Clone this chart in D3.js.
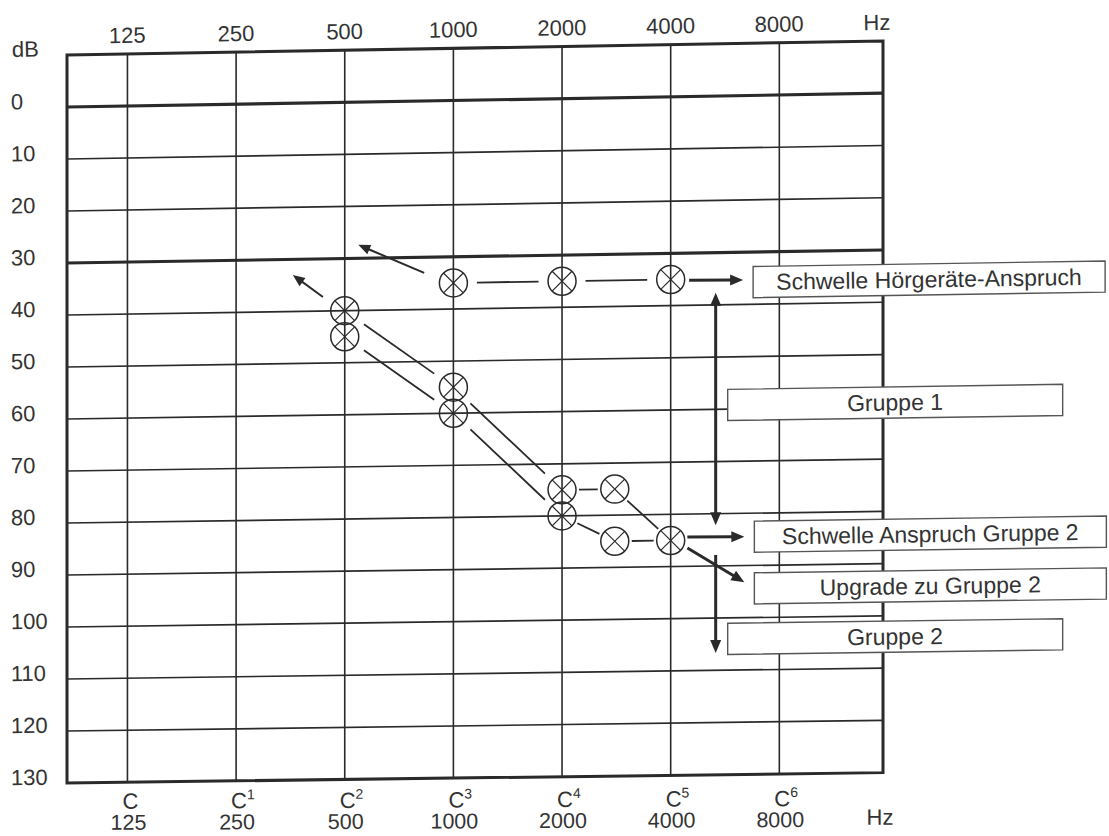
<!DOCTYPE html>
<html><head><meta charset="utf-8">
<script src="https://cdn.jsdelivr.net/npm/d3@7"></script>
<style>html,body{margin:0;padding:0;background:#fff;} svg{display:block;}</style>
</head><body>
<svg id="chart" width="1109" height="836"></svg>
<script>
// ---------- data ----------
const freqTicks = [125, 250, 500, 1000, 2000, 4000, 8000];
const freqTopLabels = ["125", "250", "500", "1000", "2000", "4000", "8000"];
const noteNames = ["C", "C", "C", "C", "C", "C", "C"];
const noteOctaves = ["", "1", "2", "3", "4", "5", "6"];
const dbTicks = [0, 10, 20, 30, 40, 50, 60, 70, 80, 90, 100, 110, 120, 130];
const dbGridLines = [0, 10, 20, 30, 40, 50, 60, 70, 80, 90, 100, 110, 120];
const dbBoldLines = [0, 30];

const thresholdFreq = [1000, 2000, 4000];
const thresholdDb = [35, 35, 35];
const curveUpperFreq = [500, 1000, 2000, 2800, 4000];
const curveUpperDb = [40, 55, 75, 75, 85];
const curveLowerFreq = [500, 1000, 2000, 2800, 4000];
const curveLowerDb = [45, 60, 80, 85, 85];

const arrowFromFreq = [830, 435, 4500, 5330, 5330, 4450, 4450, 5330];
const arrowFromDb = [33, 37.3, 35.2, 60, 60, 84.4, 86.5, 87.9];
const arrowToFreq = [545, 359, 6350, 5330, 5330, 6400, 6400, 5330];
const arrowToDb = [27.4, 33, 35.3, 37.7, 82.2, 84.5, 93.2, 106.7];

const labelTexts = ["Schwelle Hörgeräte-Anspruch", "Gruppe 1", "Schwelle Anspruch Gruppe 2", "Upgrade zu Gruppe 2", "Gruppe 2"];
const labelDb = [35.75, 59.2, 84.5, 94.4, 104];
const labelAnchorFreq = [6350, 5330, 6400, 6400, 5330];

// ---------- setup ----------
const FONT = "'Liberation Sans', Arial, Helvetica, sans-serif";
const INK = "#2a2a2a";
const TXT = "#333";
const svg = d3.select("#chart");
svg.append("rect").attr("width", 1109).attr("height", 836).attr("fill", "#fff");

const xs = d3.scaleLog().base(2).domain([85, 15500]).range([67, 883]);
const ys = d3.scaleLinear().domain([-10, 130]).range([55, 783]);
const X0 = 67;
// the scanned sheet is slightly skewed: horizontal lines rise to the right
function kAt(y) { return 0.0172 - 0.0045 * (y - 57) / 726; }
function warp(x, y, k) { const kk = (k === undefined) ? kAt(y) : k; return [x, y - kk * (x - X0)]; }
function P(f, db) { return warp(xs(f), ys(db)); }
function ang(y, k) { const kk = (k === undefined) ? kAt(y) : k; return -Math.atan(kk) * 180 / Math.PI; }

const [xL, xR] = xs.range();
const yTop = ys(-10), yBot = ys(130);

// ---------- grid ----------
const grid = svg.append("g").attr("stroke", INK).attr("fill", "none");
dbGridLines.forEach(db => {
  const a = warp(xL, ys(db)), b = warp(xR, ys(db));
  grid.append("line").attr("x1", a[0]).attr("y1", a[1]).attr("x2", b[0]).attr("y2", b[1])
    .attr("stroke-width", dbBoldLines.includes(db) ? 3.2 : 1.7);
});
freqTicks.forEach(f => {
  const a = warp(xs(f), yTop), b = warp(xs(f), yBot);
  grid.append("line").attr("x1", a[0]).attr("y1", a[1]).attr("x2", b[0]).attr("y2", b[1])
    .attr("stroke-width", 1.6);
});
const frame = [warp(xL, yTop), warp(xR, yTop), warp(xR, yBot), warp(xL, yBot)];
grid.append("polygon").attr("points", frame.map(p => p.join(",")).join(" "))
  .attr("stroke-width", 3).attr("stroke-linejoin", "miter");

// ---------- axis texts ----------
const txt = svg.append("g").attr("font-family", FONT).attr("fill", TXT).attr("font-size", 22);
function addText(x0, y0, s, anchor, k) {
  const p = warp(x0, y0, k);
  return txt.append("text").attr("x", p[0]).attr("y", p[1]).attr("text-anchor", anchor)
    .attr("transform", `rotate(${ang(y0, k)},${p[0]},${p[1]})`).text(s);
}
freqTicks.forEach((f, i) => addText(xs(f), 44, freqTopLabels[i], "middle"));
addText(877, 44, "Hz", "middle");
addText(12, 56, "dB", "start");
dbTicks.forEach(db => addText(11, ys(db) + 1.5, String(db), "start"));

const kBottom = 0.004;
freqTicks.forEach((f, i) => {
  const p = warp(xs(f) - 5, 809, kBottom);
  const t = txt.append("text").attr("x", p[0]).attr("y", p[1]).attr("text-anchor", "start")
    .attr("transform", `rotate(${ang(809, kBottom)},${p[0]},${p[1]})`);
  t.append("tspan").text(noteNames[i]);
  if (noteOctaves[i]) t.append("tspan").attr("font-size", 14).attr("dy", -9).text(noteOctaves[i]);
  addText(xs(f) + 1, 830, freqTopLabels[i], "middle", kBottom).attr("font-size", 21.5);
});
addText(880, 828, "Hz", "middle", kBottom);

// ---------- curves ----------
const R = 14;
const marks = svg.append("g").attr("stroke", INK).attr("fill", "none");
function drawCurve(freqs, dbs) {
  for (let i = 0; i < freqs.length - 1; i++) {
    const a = P(freqs[i], dbs[i]), b = P(freqs[i + 1], dbs[i + 1]);
    const dx = b[0] - a[0], dy = b[1] - a[1], d = Math.hypot(dx, dy);
    const gap = d > 80 ? 9.5 : 3;
    const s = (R + gap) / d;
    marks.append("line")
      .attr("x1", a[0] + dx * s).attr("y1", a[1] + dy * s)
      .attr("x2", b[0] - dx * s).attr("y2", b[1] - dy * s)
      .attr("stroke-width", 1.8);
  }
}
drawCurve(thresholdFreq, thresholdDb);
drawCurve(curveUpperFreq, curveUpperDb);
drawCurve(curveLowerFreq, curveLowerDb);

const pts = new Map();
[[thresholdFreq, thresholdDb], [curveUpperFreq, curveUpperDb], [curveLowerFreq, curveLowerDb]]
  .forEach(([fs, ds]) => fs.forEach((f, i) => pts.set(f + "_" + ds[i], [f, ds[i]])));
pts.forEach(([f, db]) => {
  const c = P(f, db);
  const g = marks.append("g").attr("transform", `translate(${c[0]},${c[1]})`).attr("stroke-width", 1.5);
  g.append("circle").attr("r", R);
  const q = R * 0.707;
  g.append("line").attr("x1", -q).attr("y1", -q).attr("x2", q).attr("y2", q).attr("stroke-width", 1.2);
  g.append("line").attr("x1", -q).attr("y1", q).attr("x2", q).attr("y2", -q).attr("stroke-width", 1.2);
});

// ---------- arrows ----------
const arr = svg.append("g");
arrowFromFreq.forEach((f, i) => {
  const a = P(f, arrowFromDb[i]), b = P(arrowToFreq[i], arrowToDb[i]);
  const heavy = i >= 2;
  const L = heavy ? 13 : 12, W = heavy ? 5.5 : 5;
  const dx = b[0] - a[0], dy = b[1] - a[1], d = Math.hypot(dx, dy);
  const ux = dx / d, uy = dy / d;
  const bx = b[0] - ux * L, by = b[1] - uy * L;
  arr.append("line").attr("x1", a[0]).attr("y1", a[1]).attr("x2", bx + ux * 2).attr("y2", by + uy * 2)
    .attr("stroke", INK).attr("stroke-width", heavy ? 3 : 2);
  arr.append("polygon")
    .attr("points", [[b[0], b[1]], [bx - uy * W, by + ux * W], [bx + uy * W, by - ux * W]].map(p => p.join(",")).join(" "))
    .attr("fill", INK);
});

// ---------- label boxes ----------
const boxes = svg.append("g").attr("font-family", FONT);
const BOX_H = 31;
labelTexts.forEach((s, i) => {
  const vertical = labelAnchorFreq[i] === arrowToFreq[3];
  const left = xs(labelAnchorFreq[i]) + (vertical ? 12 : 10);
  const w = vertical ? 335 : 352;
  const cy = ys(labelDb[i]);
  const corners = [warp(left, cy - BOX_H / 2), warp(left + w, cy - BOX_H / 2), warp(left + w, cy + BOX_H / 2), warp(left, cy + BOX_H / 2)];
  boxes.append("polygon").attr("points", corners.map(p => p.join(",")).join(" "))
    .attr("fill", "#fff").attr("stroke", "#555").attr("stroke-width", 1.4);
  const p = warp(left + w / 2, cy + 8);
  boxes.append("text").attr("x", p[0]).attr("y", p[1]).attr("text-anchor", "middle")
    .attr("font-size", 23).attr("fill", TXT)
    .attr("transform", `rotate(${ang(cy)},${p[0]},${p[1]})`).text(s);
});
</script>
</body></html>
